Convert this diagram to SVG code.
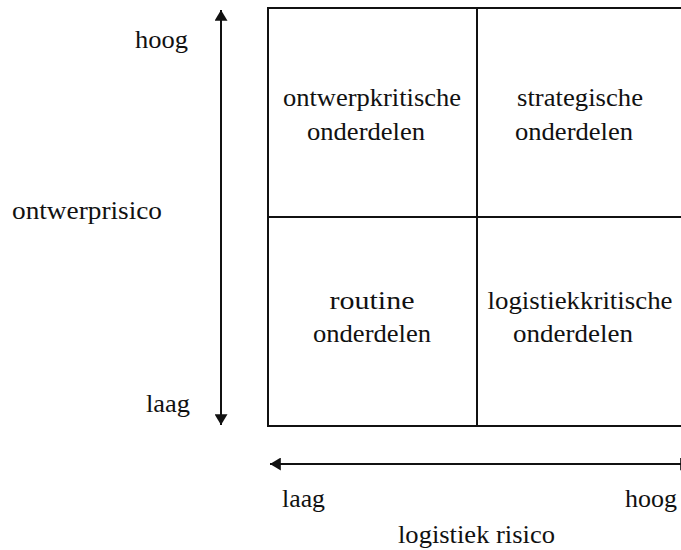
<svg xmlns="http://www.w3.org/2000/svg" width="681" height="550" viewBox="0 0 681 550">
<style>
  text { font-family: "Liberation Serif", "Times New Roman", "DejaVu Serif", serif; font-size: 25px; fill: #111; }
  .c { text-anchor: middle; }
  .ln { stroke: #111; stroke-width: 2; fill: none; }
</style>
<defs>
  <marker id="ah" viewBox="0 0 10 12" refX="10" refY="6" markerWidth="11" markerHeight="13" markerUnits="userSpaceOnUse" orient="auto">
    <path d="M0,0 L10,6 L0,12 Z" fill="#111"/>
  </marker>
</defs>
<rect width="681" height="550" fill="#fff"/>
<g id="connectors">
  <line class="ln" x1="221" y1="217" x2="221" y2="10" marker-end="url(#ah)"/>
  <line class="ln" x1="221" y1="217" x2="221" y2="425" marker-end="url(#ah)"/>
  <line class="ln" x1="480" y1="464" x2="270" y2="464" marker-end="url(#ah)"/>
  <line class="ln" x1="480" y1="464" x2="691" y2="464" marker-end="url(#ah)"/>
</g>
<g id="grid">
  <rect class="ln" x="268" y="8" width="420" height="418"/>
  <line class="ln" x1="477" y1="8" x2="477" y2="426"/>
  <line class="ln" x1="268" y1="217" x2="688" y2="217"/>
</g>
<g id="axis-labels">
  <text x="135" y="48" textLength="53" lengthAdjust="spacingAndGlyphs">hoog</text>
  <text x="12" y="219" textLength="150" lengthAdjust="spacingAndGlyphs">ontwerprisico</text>
  <text x="146" y="412" textLength="44" lengthAdjust="spacingAndGlyphs">laag</text>
  <text x="282" y="507" textLength="43" lengthAdjust="spacingAndGlyphs">laag</text>
  <text x="625" y="507" textLength="52" lengthAdjust="spacingAndGlyphs">hoog</text>
  <text x="398" y="543" textLength="157" lengthAdjust="spacingAndGlyphs">logistiek risico</text>
</g>
<g id="cell-ontwerpkritisch">
  <text class="c" x="372" y="106" textLength="178" lengthAdjust="spacingAndGlyphs">ontwerpkritische</text>
  <text class="c" x="366" y="140" textLength="118" lengthAdjust="spacingAndGlyphs">onderdelen</text>
</g>
<g id="cell-strategisch">
  <text class="c" x="580" y="106" textLength="126" lengthAdjust="spacingAndGlyphs">strategische</text>
  <text class="c" x="574" y="140" textLength="118" lengthAdjust="spacingAndGlyphs">onderdelen</text>
</g>
<g id="cell-routine">
  <text class="c" x="372" y="309" textLength="85" lengthAdjust="spacingAndGlyphs">routine</text>
  <text class="c" x="372" y="342" textLength="118" lengthAdjust="spacingAndGlyphs">onderdelen</text>
</g>
<g id="cell-logistiekkritisch">
  <text class="c" x="580" y="309" textLength="185" lengthAdjust="spacingAndGlyphs">logistiekkritische</text>
  <text class="c" x="573" y="342" textLength="120" lengthAdjust="spacingAndGlyphs">onderdelen</text>
</g>
</svg>
